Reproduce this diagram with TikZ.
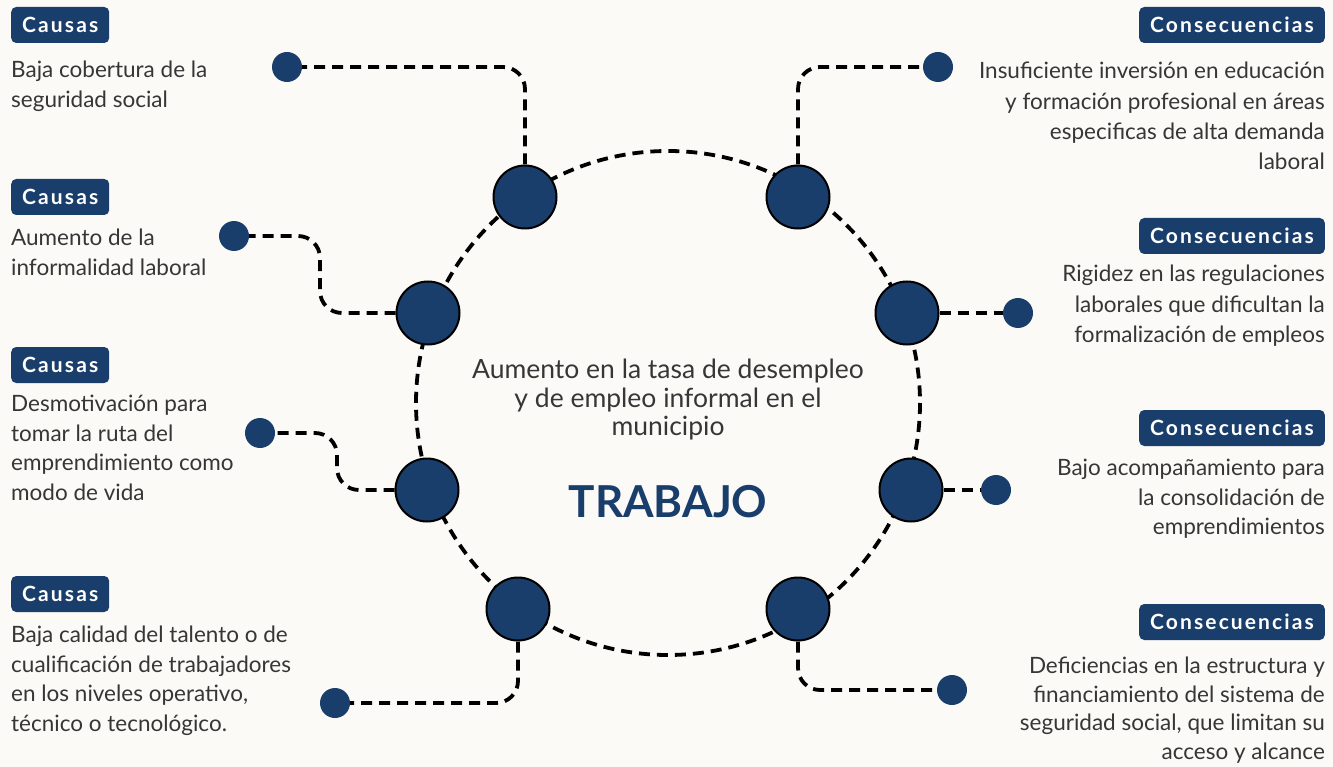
\documentclass[tikz,border=0pt]{standalone}
\usepackage{fontspec}
\setmainfont{Lato}
\usepackage{xcolor}
\usetikzlibrary{positioning}
\definecolor{navy}{HTML}{1A3E6B}
\definecolor{txtgray}{HTML}{363636}
\definecolor{paper}{HTML}{FCFAF7}
\tikzstyle{badge}  = [rectangle, fill=navy, text=white, rounded corners=5pt,
                      font=\fontsize{21}{24}\selectfont\bfseries\addfontfeature{LetterSpace=10},
                      minimum height=36pt, inner xsep=11pt]
\tikzstyle{desc}   = [font=\fontsize{22.5}{29.5}\selectfont, text=txtgray, inner sep=0pt]
\tikzstyle{hub}    = [circle, draw=black, line width=2pt, fill=navy, minimum size=63pt]
\tikzstyle{endpt}  = [circle, fill=navy, minimum size=30pt, inner sep=0pt]
\tikzstyle{link}   = [line width=3.8pt, dash pattern=on 11pt off 7pt, rounded corners=22pt]

\begin{document}
\begin{tikzpicture}[x=1pt, y=-1pt]
  % Background
  \fill[paper] (0,0) rectangle (1333,767);
  \useasboundingbox (0,0) rectangle (1333,767);

  % Ring
  \draw[link] (668,403) circle (252);

  % Hubs on the ring
  \node[hub] (htl) at (525,197) {};
  \node[hub] (htr) at (798,197) {};
  \node[hub] (hl1) at (428,313) {};
  \node[hub] (hr1) at (907,313) {};
  \node[hub] (hl2) at (427,490) {};
  \node[hub] (hr2) at (911,490) {};
  \node[hub] (hbl) at (518,609) {};
  \node[hub] (hbr) at (798,609) {};

  % End points
  \node[endpt] (etl) at (287,67) {};
  \node[endpt] (etr) at (938,67) {};
  \node[endpt] (el1) at (234,236) {};
  \node[endpt] (er1) at (1018,313) {};
  \node[endpt] (el2) at (260,433) {};
  \node[endpt] (er2) at (996,490) {};
  \node[endpt] (ebl) at (335,703) {};
  \node[endpt] (ebr) at (952,690) {};

  % Connectors
  \draw[link] (htl) |- (etl);
  \draw[link] (htr) |- (etr);
  \draw[link] (hl1) -- (320,313) -- (320,236) -- (el1);
  \draw[link] (hl2) -- (337,490) -- (337,433) -- (el2);
  \draw[link] (hr1) -- (er1);
  \draw[link] (hr2) -- (er2);
  \draw[link] (hbl) |- (ebl);
  \draw[link] (hbr) |- (ebr);

  % Centre
  \node[desc, align=center, font=\fontsize{26.5}{28.5}\selectfont] (topic) at (668,400)
    {Aumento en la tasa de desempleo\\y de empleo informal en el\\municipio};
  \node[font=\fontsize{44}{48}\selectfont\bfseries, text=navy] (trabajo) at (668,502) {TRABAJO};

  % Causes
  \node[badge, anchor=west] (c1) at (11,25) {Causas};
  \node[desc, align=left, below=18pt of c1.south west, anchor=north west] (dc1)
    {Baja cobertura de la\\seguridad social};
  \node[badge, anchor=west] (c2) at (11,197) {Causas};
  \node[desc, align=left, below=14pt of c2.south west, anchor=north west] (dc2)
    {Aumento de la\\informalidad laboral};
  \node[badge, anchor=west] (c3) at (11,365) {Causas};
  \node[desc, align=left, below=12pt of c3.south west, anchor=north west] (dc3)
    {Desmotivación para\\tomar la ruta del\\emprendimiento como\\modo de vida};
  \node[badge, anchor=west] (c4) at (11,594) {Causas};
  \node[desc, align=left, below=14pt of c4.south west, anchor=north west] (dc4)
    {Baja calidad del talento o de\\cualificación de trabajadores\\en los niveles operativo,\\técnico o tecnológico.};

  % Consequences
  \node[badge, anchor=east] (k1) at (1325,25) {Consecuencias};
  \node[desc, align=right, below=19pt of k1.south east, anchor=north east,
        font=\fontsize{22.5}{30.2}\selectfont] (dk1)
    {Insuficiente inversión en educación\\y formación profesional en áreas\\especificas de alta demanda\\laboral};
  \node[badge, anchor=east] (k2) at (1325,236) {Consecuencias};
  \node[desc, align=right, below=11pt of k2.south east, anchor=north east,
        font=\fontsize{22.5}{30.5}\selectfont] (dk2)
    {Rigidez en las regulaciones\\laborales que dificultan la\\formalización de empleos};
  \node[badge, anchor=east] (k3) at (1325,428) {Consecuencias};
  \node[desc, align=right, below=13pt of k3.south east, anchor=north east] (dk3)
    {Bajo acompañamiento para\\la consolidación de\\emprendimientos};
  \node[badge, anchor=east] (k4) at (1325,622) {Consecuencias};
  \node[desc, align=right, below=17pt of k4.south east, anchor=north east,
        font=\fontsize{22.5}{28.5}\selectfont] (dk4)
    {Deficiencias en la estructura y\\financiamiento del sistema de\\seguridad social, que limitan su\\acceso y alcance};
\end{tikzpicture}
\end{document}
